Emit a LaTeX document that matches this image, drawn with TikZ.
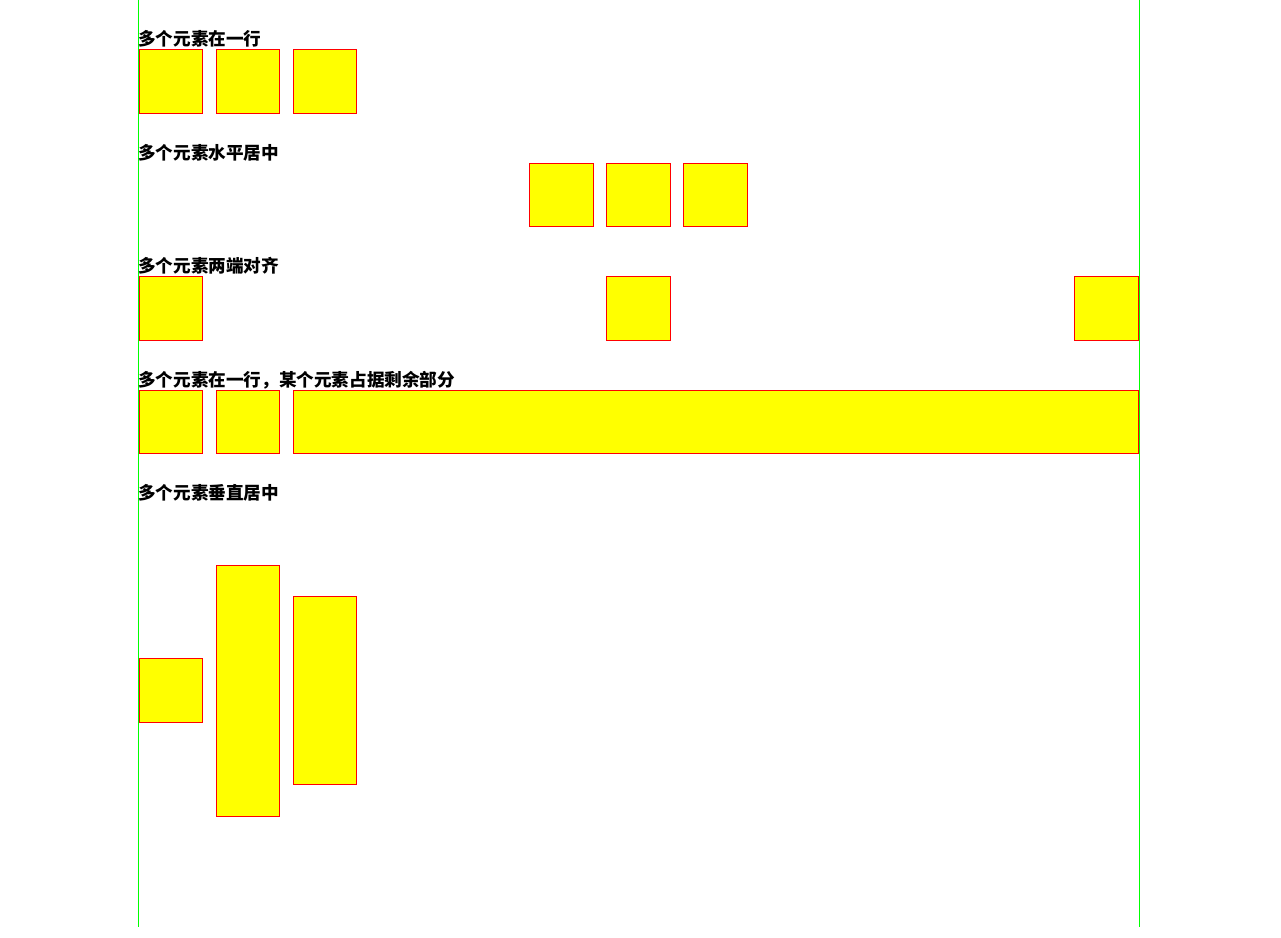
\documentclass[tikz,border=0pt]{standalone}
\usepackage{fontspec}
\newfontfamily\cjk{Noto Sans CJK SC}
\definecolor{guide}{RGB}{0,255,0}
\definecolor{boxfill}{RGB}{255,255,0}
\definecolor{boxline}{RGB}{255,0,0}
\begin{document}
\begin{tikzpicture}[
    x=1pt,
    y=-1pt,
    box/.style={fill=boxfill, draw=boxline, line width=1pt},
    caption/.style={anchor=base west, inner sep=0pt, font=\cjk\bfseries\fontsize{17.6}{20}\selectfont}
]
\useasboundingbox (0,0) rectangle (1281,937);
\draw[guide, line width=1pt] (138.5,0) -- (138.5,927);
\draw[guide, line width=1pt] (1139,0) -- (1139,927);

\node[caption] (t1) at (138,45) {多个元素在一行};
\draw[box] (139,49.5) rectangle (202.5,113);
\draw[box] (216.5,49.5) rectangle (279.5,113);
\draw[box] (293.5,49.5) rectangle (356.5,113);

\node[caption] (t2) at (138,159) {多个元素水平居中};
\draw[box] (529.5,163.5) rectangle (593,226.5);
\draw[box] (606.5,163.5) rectangle (670,226.5);
\draw[box] (683.5,163.5) rectangle (747,226.5);

\node[caption] (t3) at (138,272) {多个元素两端对齐};
\draw[box] (139,276.5) rectangle (202.5,340);
\draw[box] (606.5,276.5) rectangle (670,340);
\draw[box] (1074.5,276.5) rectangle (1138,340);

\node[caption] (t4) at (138,386) {多个元素在一行，某个元素占据剩余部分};
\draw[box] (139,390.5) rectangle (202.5,453);
\draw[box] (216.5,390.5) rectangle (279.5,453);
\draw[box] (293.5,390.5) rectangle (1138,453);

\node[caption] (t5) at (138,499) {多个元素垂直居中};
\draw[box] (139,658.5) rectangle (202.5,722);
\draw[box] (216.5,565.5) rectangle (279.5,816);
\draw[box] (293.5,596.5) rectangle (356.5,784);
\end{tikzpicture}
\end{document}
